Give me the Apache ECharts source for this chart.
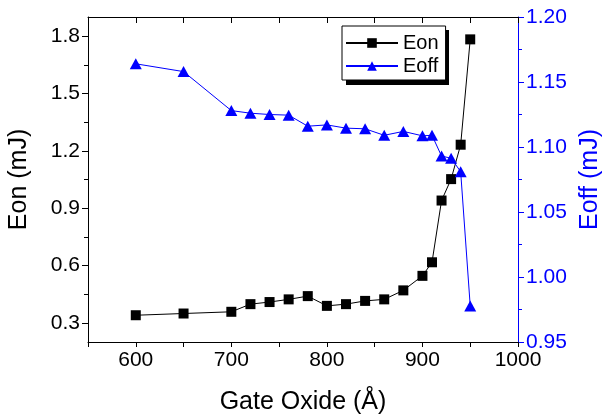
<!DOCTYPE html>
<html>
<head>
<meta charset="utf-8">
<script src="https://cdn.jsdelivr.net/npm/echarts@6/dist/echarts.min.js"></script>
<style>html,body{margin:0;padding:0;background:#fff}#c{width:604px;height:416px}</style>
</head>
<body>
<div id="c"></div>
<script>
var gateOxide = [600, 650, 700, 720, 740, 760, 780, 800, 820, 840, 860, 880, 900, 910, 920, 930, 940, 950];
var eon = [0.340, 0.349, 0.358, 0.398, 0.409, 0.423, 0.440, 0.389, 0.398, 0.415, 0.423, 0.470, 0.546, 0.617, 0.940, 1.052, 1.232, 1.783];
var eoff = [1.164, 1.158, 1.128, 1.126, 1.125, 1.1245, 1.116, 1.117, 1.1145, 1.114, 1.109, 1.112, 1.1086, 1.109, 1.093, 1.0914, 1.081, 0.9777];
var leftMajor = [0.3, 0.6, 0.9, 1.2, 1.5, 1.8];
var leftMinor = [0.45, 0.75, 1.05, 1.35, 1.65];

var FONT = 'Liberation Sans, Arial, sans-serif';
var BLUE = '#0000ff';
var chart = echarts.init(document.getElementById('c'), null, {renderer: 'canvas'});
var lbl = {fontFamily: FONT, fontSize: 21, color: '#000'};

chart.setOption({
  animation: false,
  backgroundColor: '#fff',
  grid: {left: 88, right: 86, top: 17, bottom: 74, containLabel: false, outerBoundsMode: 'none'},
  graphic: [{
    type: 'rect', left: 346, top: 30, z: 0,
    shape: {width: 103, height: 55},
    style: {fill: '#000'}
  }],
  legend: {
    orient: 'vertical', left: 342, top: 26, z: 10,
    padding: [7, 7, 4, 3], itemGap: 3, itemWidth: 52, itemHeight: 12,
    backgroundColor: '#fff', borderColor: '#000', borderWidth: 1,
    textStyle: {fontFamily: FONT, fontSize: 20, color: '#000', padding: [0, 0, 0, 0]},
    data: ['Eon', 'Eoff']
  },
  xAxis: [{
    type: 'value', min: 550, max: 1000, interval: 50, position: 'bottom',
    name: 'Gate Oxide (Å)', nameLocation: 'middle', nameGap: 48,
    nameTextStyle: {fontFamily: FONT, fontSize: 25, color: '#000'},
    axisLine: {lineStyle: {color: '#000', width: 1}},
    axisTick: {show: true, inside: false, length: 5, lineStyle: {color: '#000'}},
    axisLabel: Object.assign({margin: 8, formatter: function (v) { return v % 100 === 0 ? String(v) : ''; }}, lbl),
    splitLine: {show: false}
  }, {
    type: 'value', min: 550, max: 1000, interval: 50, position: 'top',
    axisLine: {lineStyle: {color: '#000', width: 1}},
    axisTick: {show: true, inside: true, length: 6, lineStyle: {color: '#000'}},
    axisLabel: {show: false}, splitLine: {show: false}
  }],
  yAxis: [{
    type: 'value', min: 0.2, max: 1.9, position: 'left',
    name: 'Eon (mJ)', nameLocation: 'middle', nameGap: 56, nameRotate: 90,
    nameTextStyle: {fontFamily: FONT, fontSize: 25, color: '#000'},
    axisLine: {show: true, lineStyle: {color: '#000', width: 1}},
    axisTick: {show: true, length: 6, customValues: leftMajor, lineStyle: {color: '#000'}},
    axisLabel: Object.assign({margin: 8, customValues: leftMajor, formatter: function (v) { return v.toFixed(1); }}, lbl),
    splitLine: {show: false}
  }, {
    type: 'value', min: 0.2, max: 1.9, position: 'left',
    axisLine: {show: false},
    axisTick: {show: true, length: 4, customValues: leftMinor, lineStyle: {color: '#000'}},
    axisLabel: {show: false}, splitLine: {show: false}
  }, {
    type: 'value', min: 0.95, max: 1.2, interval: 0.05, position: 'right',
    name: 'Eoff (mJ)', nameLocation: 'middle', nameGap: 60, nameRotate: 90,
    nameTextStyle: {fontFamily: FONT, fontSize: 25, color: BLUE},
    axisLine: {show: true, lineStyle: {color: BLUE, width: 1}},
    axisTick: {show: true, length: 6, lineStyle: {color: BLUE}},
    axisLabel: {margin: 8, fontFamily: FONT, fontSize: 21, color: BLUE, formatter: function (v) { return v.toFixed(2); }},
    splitLine: {show: false}
  }, {
    type: 'value', min: 0.95, max: 1.2, interval: 0.025, position: 'right',
    axisLine: {show: false},
    axisTick: {show: true, length: 4, lineStyle: {color: BLUE}},
    axisLabel: {show: false}, splitLine: {show: false}
  }],
  series: [{
    name: 'Eon', type: 'line', xAxisIndex: 0, yAxisIndex: 0,
    data: gateOxide.map(function (x, i) { return [x, eon[i]]; }),
    symbol: 'rect', symbolSize: 10, showSymbol: true,
    lineStyle: {color: '#000', width: 1}, itemStyle: {color: '#000'}
  }, {
    name: 'Eoff', type: 'line', xAxisIndex: 0, yAxisIndex: 2,
    data: gateOxide.map(function (x, i) { return [x, eoff[i]]; }),
    symbol: 'triangle', symbolSize: [12, 11], showSymbol: true,
    lineStyle: {color: BLUE, width: 1}, itemStyle: {color: BLUE}
  }]
});
</script>
</body>
</html>
